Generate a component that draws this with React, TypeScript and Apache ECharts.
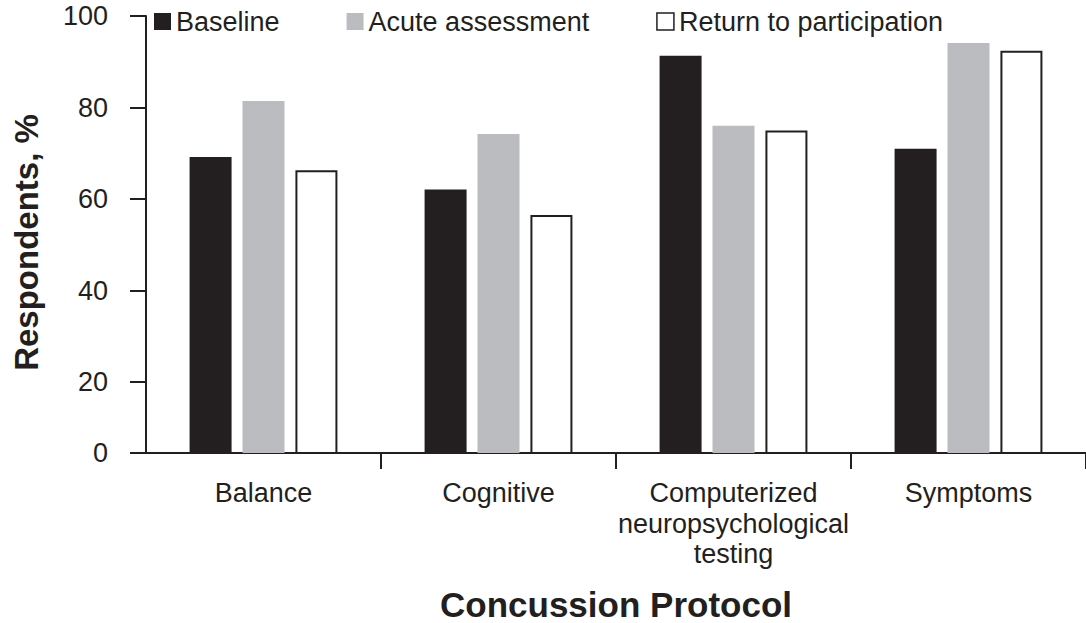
import React, { useEffect, useRef } from "react";
import * as echarts from "echarts";

const categories = ["Balance", "Cognitive", "Computerized\nneuropsychological\ntesting", "Symptoms"];
const baseline = [69.2, 62.1, 91.3, 71.0];
const acute = [81.4, 74.2, 76.0, 94.1];
const returnToPlay = [66.3, 56.5, 75.0, 92.4];
const yTickValues = [4.5, 20, 40, 60, 80, 100];
const yTickLabels = ["0", "20", "40", "60", "80", "100"];

const INK = "#231f20";
const GRAY = "#bbbcbf";
const FONT = "Liberation Sans, Arial, sans-serif";

export default function App() {
  const ref = useRef<HTMLDivElement>(null);
  useEffect(() => {
    if (!ref.current) return;
    const chart = echarts.init(ref.current, undefined, { renderer: "svg" });
    chart.setOption({
      animation: false,
      backgroundColor: "#ffffff",
      textStyle: { fontFamily: FONT, color: INK },
      legend: {
        left: 149,
        top: 3,
        itemWidth: 17,
        itemHeight: 17,
        itemGap: 67,
        icon: "rect",
        textStyle: { fontSize: 27, color: INK, fontFamily: FONT },
        data: [
          { name: "Baseline", itemStyle: { color: INK } },
          { name: "Acute assessment", itemStyle: { color: GRAY } },
          { name: "Return to participation", itemStyle: { color: "#ffffff", borderColor: INK, borderWidth: 1.5 } },
        ],
      },
      grid: { left: 146, right: 0, top: 16, bottom: 170, containLabel: false, outerBoundsMode: "none" },
      xAxis: {
        type: "category",
        data: categories,
        name: "Concussion Protocol",
        nameLocation: "middle",
        nameGap: 134,
        nameTextStyle: { fontSize: 35, lineHeight: 34, fontWeight: "bold", color: INK, fontFamily: FONT },
        axisLine: { lineStyle: { color: INK, width: 2 } },
        axisTick: {
          show: true,
          length: 16,
          lineStyle: { color: INK, width: 2 },
          interval: (index: number) => index !== 0,
        },
        axisLabel: { interval: 0, fontSize: 27, color: INK, margin: 25, lineHeight: 30.5, fontFamily: FONT },
      },
      yAxis: {
        type: "value",
        min: 4.5,
        max: 100,
        name: "Respondents, %",
        nameLocation: "middle",
        nameGap: 103,
        nameTextStyle: {
          fontSize: 33,
          fontWeight: "bold",
          color: INK,
          fontFamily: FONT,
          padding: [0, 16, 0, 0],
        },
        splitLine: { show: false },
        axisLine: { show: true, lineStyle: { color: INK, width: 2 } },
        axisTick: { show: true, length: 16, lineStyle: { color: INK, width: 2 }, customValues: yTickValues },
        axisLabel: {
          fontSize: 27,
          color: INK,
          margin: 38,
          fontFamily: FONT,
          customValues: yTickValues,
          formatter: (v: number) => {
            const i = yTickValues.findIndex((t) => Math.abs(t - v) < 0.01);
            return i >= 0 ? yTickLabels[i] : "";
          },
        },
      },
      series: [
        { name: "Baseline", type: "bar", data: baseline, barWidth: 42, barGap: "26%", itemStyle: { color: INK } },
        { name: "Acute assessment", type: "bar", data: acute, barWidth: 42, barGap: "26%", itemStyle: { color: GRAY } },
        {
          name: "Return to participation",
          type: "bar",
          data: returnToPlay,
          barWidth: 42,
          barGap: "26%",
          itemStyle: { color: "#ffffff", borderColor: INK, borderWidth: 2 },
        },
      ],
    });
    return () => chart.dispose();
  }, []);
  return (
    <div
      ref={ref}
      style={{ position: "fixed", left: 0, top: 0, width: 1086, height: 623, background: "#fff" }}
    />
  );
}
